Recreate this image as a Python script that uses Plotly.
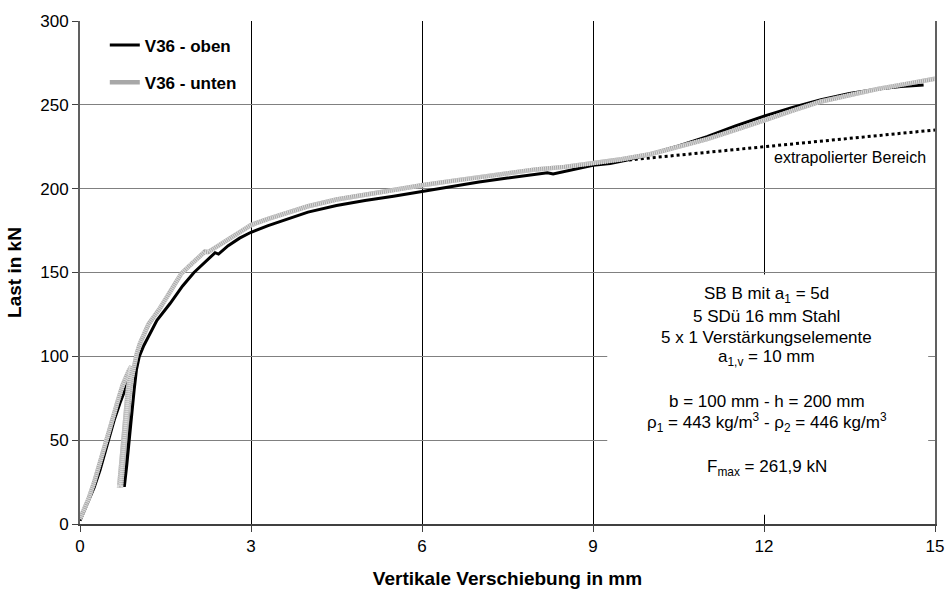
import plotly.graph_objects as go

# Load–displacement curves of test V36 (displacement in mm, load in kN)
oben_s = [0.0, 0.05, 0.15, 0.25, 0.35, 0.45, 0.52, 0.60, 0.70, 0.80, 0.88,
          0.86, 0.82, 0.79, 0.77,
          0.78, 0.82, 0.86, 0.90, 0.95, 0.99, 1.04, 1.12, 1.25, 1.35, 1.58,
          1.80, 2.00, 2.20, 2.37, 2.43, 2.60, 2.80, 3.00, 3.30, 3.60, 4.00,
          4.50, 5.00, 5.50, 6.00, 6.50, 7.00, 7.50, 8.00, 8.20, 8.30, 8.60,
          9.00, 9.30, 9.60, 10.00, 10.50, 11.00, 11.50, 12.00, 12.50, 13.00,
          13.50, 14.00, 14.40, 14.80]
oben_f = [2.0, 6.0, 13.0, 22.0, 32.0, 44.0, 52.0, 62.0, 72.0, 81.0, 88.0,
          72.0, 50.0, 33.0, 23.0,
          23.0, 35.0, 50.0, 65.0, 80.0, 92.0, 100.0, 106.5, 115.0, 121.5, 131.5,
          142.0, 150.0, 156.5, 161.8, 161.0, 166.0, 170.5, 174.0, 178.0, 181.5, 186.0,
          190.0, 193.0, 195.5, 198.3, 201.5, 204.0, 206.3, 208.5, 209.5, 208.8, 211.0,
          214.0, 215.0, 217.0, 220.5, 225.5, 231.0, 237.5, 243.3, 248.5, 253.0,
          256.8, 259.5, 261.0, 261.9]

unten_s = [0.0, 0.05, 0.15, 0.25, 0.35, 0.47, 0.55, 0.65, 0.75, 0.85, 0.90,
           0.84, 0.78, 0.73, 0.69,
           0.72, 0.76, 0.80, 0.85, 0.90, 0.95, 1.00, 1.05, 1.20, 1.40, 1.60,
           1.78, 2.00, 2.19, 2.25, 2.40, 2.60, 2.80, 3.00, 3.30, 3.60, 4.00,
           4.50, 5.00, 5.50, 6.00, 6.50, 7.00, 7.50, 8.00, 8.50, 9.00, 9.50,
           10.00, 10.50, 11.00, 11.50, 12.00, 12.50, 13.00, 13.50, 14.00, 14.50,
           15.00]
unten_f = [3.0, 7.0, 15.0, 25.0, 36.0, 50.0, 60.0, 72.0, 83.0, 91.0, 94.0,
           80.0, 55.0, 35.0, 23.0,
           23.0, 40.0, 55.0, 72.0, 86.0, 96.0, 102.0, 107.5, 119.0, 128.5, 139.5,
           149.5, 156.5, 162.4, 162.2, 165.5, 170.0, 174.5, 178.3, 182.0, 185.5, 189.5,
           193.5, 196.5, 199.5, 202.0, 204.5, 207.0, 209.0, 211.5, 213.0, 215.0, 217.5,
           220.5, 225.0, 229.5, 235.0, 241.0, 246.5, 252.0, 256.0, 259.5, 262.5,
           265.5]

# Extrapolated linear range
extra_s = [9.0, 15.0]
extra_f = [215.0, 235.0]

x_ticks = [0, 3, 6, 9, 12, 15]
y_ticks = [0, 50, 100, 150, 200, 250, 300]

FONT = "Liberation Sans, Arial, sans-serif"

fig = go.Figure()

fig.add_trace(go.Scatter(
    x=extra_s, y=extra_f, mode="lines", showlegend=False,
    line=dict(color="black", width=3, dash="3px,3px"), hoverinfo="skip"))

fig.add_trace(go.Scatter(
    x=oben_s, y=oben_f, mode="lines", name="V36 - oben",
    legendgroup="oben", line=dict(color="black", width=3)))

fig.add_trace(go.Scatter(
    x=unten_s, y=unten_f, mode="lines", name="V36 - unten",
    legendgroup="unten", line=dict(color="#a8a8a8", width=4.5)))
# fine light stripes on the grey curve
fig.add_trace(go.Scatter(
    x=unten_s, y=unten_f, mode="lines", showlegend=False,
    legendgroup="unten", line=dict(color="#dcdcdc", width=4.5, dash="1px,1px"),
    hoverinfo="skip"))

# White background of the text block
fig.add_shape(type="rect", xref="x", yref="y", x0=9.25, x1=14.88, y0=5.5, y1=148.8,
              fillcolor="white", line=dict(width=0), layer="above")

info_lines = [
    ("SB B mit a<sub>1</sub> = 5d", 136.6),
    ("5 SDü 16 mm Stahl", 123.6),
    ("5 x 1 Verstärkungselemente", 111.3),
    ("a<sub>1,v</sub> = 10 mm", 99.0),
    ("b = 100 mm - h = 200 mm", 72.9),
    ("ρ<sub>1</sub> = 443 kg/m<sup>3</sup> - ρ<sub>2</sub> = 446 kg/m<sup>3</sup>", 60.4),
    ("F<sub>max</sub> = 261,9 kN", 33.4),
]
for txt, yv in info_lines:
    fig.add_annotation(x=12.05, y=yv, xref="x", yref="y", text=txt, showarrow=False,
                       xanchor="center", yanchor="middle",
                       font=dict(family=FONT, size=17, color="black"))

fig.add_annotation(x=13.5, y=218.8, xref="x", yref="y", text="extrapolierter Bereich",
                   showarrow=False, xanchor="center", yanchor="middle",
                   font=dict(family=FONT, size=16, color="black"))

fig.update_layout(
    width=946, height=590,
    margin=dict(l=80, r=11, t=21, b=66, autoexpand=False),
    paper_bgcolor="white", plot_bgcolor="white",
    font=dict(family=FONT, size=17, color="black"),
    showlegend=True,
    legend=dict(x=0.029, y=0.987, xanchor="left", yanchor="top",
                traceorder="grouped", tracegroupgap=12,
                bgcolor="rgba(0,0,0,0)", borderwidth=0,
                font=dict(family=FONT, size=17, color="black", weight="bold")),
)

fig.update_xaxes(
    range=[0, 15], tickvals=x_ticks, ticktext=[str(v) for v in x_ticks],
    showgrid=True, gridcolor="black", gridwidth=1, automargin=False,
    showline=True, linecolor="#404040", linewidth=2,
    ticks="outside", ticklen=6, tickcolor="#404040", zeroline=False,
    tickfont=dict(family=FONT, size=17),
    title=dict(text="<b>Vertikale Verschiebung in mm</b>", standoff=16,
               font=dict(family=FONT, size=19)),
)
fig.update_yaxes(
    range=[0, 300], tickvals=y_ticks, ticktext=[str(v) for v in y_ticks],
    showgrid=True, gridcolor="#808080", gridwidth=1, automargin=False,
    showline=True, linecolor="#606060", linewidth=2, mirror=True,
    ticks="outside", ticklen=6, tickcolor="#404040", zeroline=False,
    tickfont=dict(family=FONT, size=17),
    title=dict(text="<b>Last in kN</b>", standoff=14,
               font=dict(family=FONT, size=19)),
)

fig.write_html("out.html")
